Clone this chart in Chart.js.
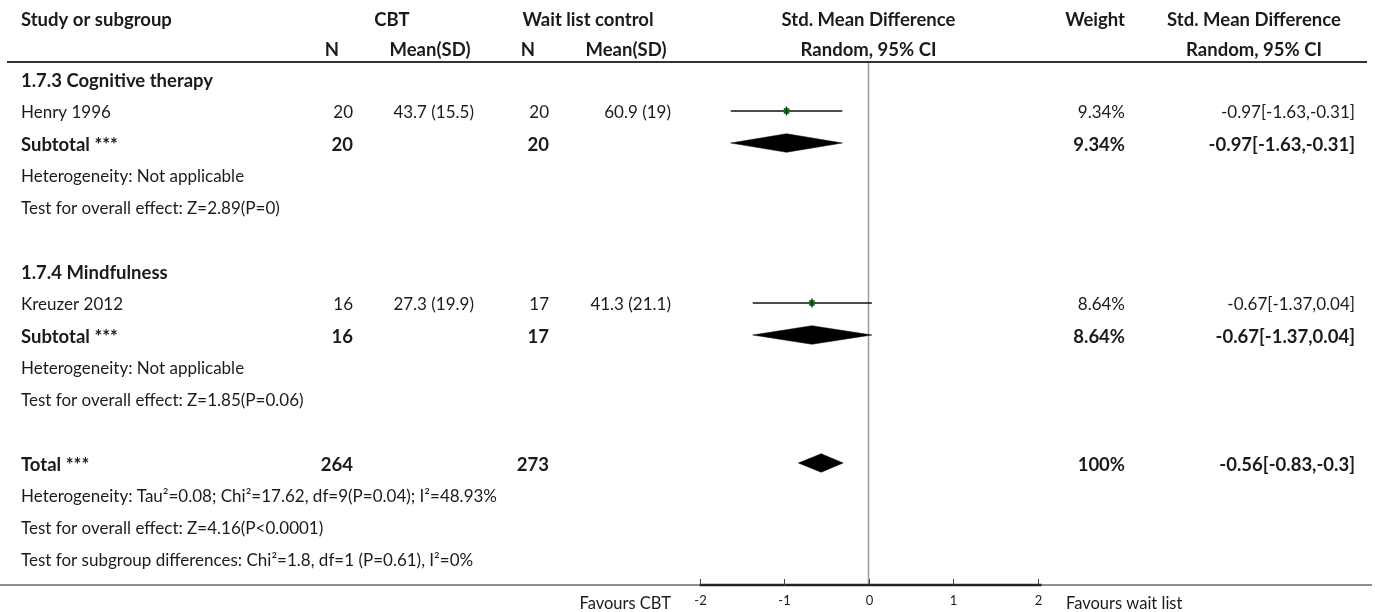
<!DOCTYPE html>
<html>
<head>
<meta charset="utf-8">
<title>Forest plot: CBT vs wait list control</title>
<script src="https://cdn.jsdelivr.net/npm/chart.js@4.4.1/dist/chart.umd.min.js"></script>
<style>
  html, body { margin: 0; padding: 0; background: #ffffff; }
  #wrap { width: 1375px; height: 612px; }
</style>
</head>
<body>
<div id="wrap"><canvas id="forest" width="1375" height="612"></canvas></div>
<script>
// ---- Table rows (top to bottom) ----
const rowLabels = [
  "1.7.3 Cognitive therapy",
  "Henry 1996",
  "Subtotal ***",
  "Heterogeneity: Not applicable",
  "Test for overall effect: Z=2.89(P=0)",
  "",
  "1.7.4 Mindfulness",
  "Kreuzer 2012",
  "Subtotal ***",
  "Heterogeneity: Not applicable",
  "Test for overall effect: Z=1.85(P=0.06)",
  "",
  "Total ***",
  "Heterogeneity: Tau\u00b2=0.08; Chi\u00b2=17.62, df=9(P=0.04); I\u00b2=48.93%",
  "Test for overall effect: Z=4.16(P<0.0001)",
  "Test for subgroup differences: Chi\u00b2=1.8, df=1 (P=0.61), I\u00b2=0%"
];
const boldRows = [0, 2, 6, 8, 12];

// ---- Individual studies ----
const studyRows   = [1, 7];
const cbtN        = [20, 16];
const cbtMeanSD   = ["43.7 (15.5)", "27.3 (19.9)"];
const wlN         = [20, 17];
const wlMeanSD    = ["60.9 (19)", "41.3 (21.1)"];
const studySMD    = [-0.97, -0.67];
const studyLo     = [-1.63, -1.37];
const studyHi     = [-0.31, 0.04];
const studyWeight = [9.34, 8.64];

// ---- Pooled estimates (subtotals and total) ----
const pooledRows   = [2, 8, 12];
const pooledCbtN   = [20, 16, 264];
const pooledWlN    = [20, 17, 273];
const pooledSMD    = [-0.97, -0.67, -0.56];
const pooledLo     = [-1.63, -1.37, -0.83];
const pooledHi     = [-0.31, 0.04, -0.3];
const pooledWeight = [9.34, 8.64, 100];

// ---- Effect axis ----
const xTicks = [-2, -1, 0, 1, 2];
const xMin = -2, xMax = 2;
const favourLeft = "Favours CBT";
const favourRight = "Favours wait list";

// ---------------------------------------------------------------
const FONT = "Lato, 'Liberation Sans', sans-serif";
const INK = "#1b1b1b";
const BODY_SIZE = 17;
const BOLD_SIZE = 18.5;
const DIAMOND_HALF = 0.29;   // half height of a pooled diamond, in row units

const ciFmt = (m, lo, hi) => `${m}[${lo},${hi}]`;

const datasets = [];

// confidence interval whiskers
studyRows.forEach((r, i) => {
  datasets.push({
    type: 'line',
    data: [{ x: studyLo[i], y: r }, { x: studyHi[i], y: r }],
    borderColor: '#111',
    borderWidth: 1.6,
    pointRadius: 0,
    fill: false,
    order: 3
  });
});

// pooled diamonds
pooledRows.forEach((r, i) => {
  datasets.push({
    type: 'line',
    data: [
      { x: pooledLo[i], y: r },
      { x: pooledSMD[i], y: r - DIAMOND_HALF },
      { x: pooledHi[i], y: r },
      { x: pooledSMD[i], y: r + DIAMOND_HALF },
      { x: pooledLo[i], y: r }
    ],
    borderColor: '#000',
    borderWidth: 0.5,
    backgroundColor: '#000',
    pointRadius: 0,
    tension: 0,
    fill: 'shape',
    order: 3
  });
});

// study point estimates: green square with a dark centre tick
datasets.push({
  type: 'scatter',
  data: studyRows.map((r, i) => ({ x: studySMD[i], y: r })),
  pointStyle: 'rect',
  pointRadius: 3.6,
  backgroundColor: '#0a7a12',
  borderColor: '#0a6010',
  borderWidth: 0.5,
  order: 2
});
datasets.push({
  type: 'scatter',
  data: studyRows.map((r, i) => ({ x: studySMD[i], y: r })),
  pointStyle: 'line',
  rotation: 90,
  pointRadius: 4.6,
  borderColor: '#102010',
  borderWidth: 1.3,
  order: 1
});

// ---- Table text, rules and the effect axis ----
const tablePlugin = {
  id: 'forestTable',
  beforeDatasetsDraw(chart) {
    const { ctx, chartArea } = chart;
    const xs = chart.scales.x;
    // line of no effect
    ctx.save();
    ctx.strokeStyle = '#9a9a9a';
    ctx.lineWidth = 1.5;
    const x0 = xs.getPixelForValue(0);
    ctx.beginPath();
    ctx.moveTo(x0, chartArea.top);
    ctx.lineTo(x0, chartArea.bottom);
    ctx.stroke();
    ctx.restore();
  },
  afterDraw(chart) {
    const { ctx, chartArea } = chart;
    const xs = chart.scales.x, ys = chart.scales.y;
    const rowY = r => ys.getPixelForValue(r) + 2;

    ctx.save();
    ctx.textBaseline = 'middle';
    ctx.fillStyle = INK;

    const put = (txt, x, y, align, bold, size) => {
      ctx.font = `${bold ? 'bold ' : ''}${size || (bold ? BOLD_SIZE : BODY_SIZE)}px ${FONT}`;
      ctx.textAlign = align;
      ctx.fillText(txt, x, y);
    };

    // column anchors
    const C = {
      study: 21, nA: 353, msA: 474, nB: 549, msB: 671,
      weight: 1125, smd: 1355
    };

    // header
    const h1 = 20, h2 = 50;
    put("Study or subgroup", C.study, h1, 'left', true);
    put("CBT", 392, h1, 'center', true);
    put("Wait list control", 588, h1, 'center', true);
    put("Std. Mean Difference", xs.getPixelForValue(0), h1, 'center', true);
    put("Weight", 1125, h1, 'right', true);
    put("Std. Mean Difference", 1254, h1, 'center', true);
    put("N", 332, h2, 'center', true);
    put("Mean(SD)", 430, h2, 'center', true);
    put("N", 528, h2, 'center', true);
    put("Mean(SD)", 626, h2, 'center', true);
    put("Random, 95% CI", xs.getPixelForValue(0), h2, 'center', true);
    put("Random, 95% CI", 1254, h2, 'center', true);

    // header rule
    ctx.strokeStyle = '#333';
    ctx.lineWidth = 2;
    ctx.beginPath();
    ctx.moveTo(7, chartArea.top);
    ctx.lineTo(1367, chartArea.top);
    ctx.stroke();

    // row labels
    rowLabels.forEach((t, r) => {
      if (t) put(t, C.study, rowY(r), 'left', boldRows.includes(r));
    });

    // study rows
    studyRows.forEach((r, i) => {
      const y = rowY(r);
      put(String(cbtN[i]), C.nA, y, 'right', false);
      put(cbtMeanSD[i], C.msA, y, 'right', false);
      put(String(wlN[i]), C.nB, y, 'right', false);
      put(wlMeanSD[i], C.msB, y, 'right', false);
      put(studyWeight[i] + '%', C.weight, y, 'right', false);
      put(ciFmt(studySMD[i], studyLo[i], studyHi[i]), C.smd, y, 'right', false);
    });

    // pooled rows
    pooledRows.forEach((r, i) => {
      const y = rowY(r);
      put(String(pooledCbtN[i]), C.nA, y, 'right', true);
      put(String(pooledWlN[i]), C.nB, y, 'right', true);
      put(pooledWeight[i] + '%', C.weight, y, 'right', true);
      put(ciFmt(pooledSMD[i], pooledLo[i], pooledHi[i]), C.smd, y, 'right', true);
    });

    // effect axis
    const yb = chartArea.bottom;
    ctx.strokeStyle = '#222';
    ctx.lineWidth = 1.2;
    ctx.beginPath();
    ctx.moveTo(0, yb);
    ctx.lineTo(1372, yb);
    ctx.stroke();
    ctx.lineWidth = 2.4;
    ctx.beginPath();
    ctx.moveTo(xs.getPixelForValue(xMin), yb);
    ctx.lineTo(xs.getPixelForValue(xMax) + 4, yb);
    ctx.stroke();
    ctx.lineWidth = 1;
    ctx.strokeStyle = '#444';
    xTicks.forEach(t => {
      const px = Math.round(xs.getPixelForValue(t)) + 0.5;
      ctx.beginPath();
      ctx.moveTo(px, yb);
      ctx.lineTo(px, yb - 6);
      ctx.stroke();
      put(String(t), px, yb + 16, 'center', false, 13);
    });
    put(favourLeft, 671, yb + 19, 'right', false, 16.5);
    put(favourRight, 1066, yb + 19, 'left', false, 16.5);

    ctx.restore();
  }
};

new Chart(document.getElementById('forest'), {
  type: 'scatter',
  data: { datasets },
  options: {
    responsive: false,
    devicePixelRatio: 1,
    animation: false,
    events: [],
    layout: { padding: { left: 699.5, right: 337.5, top: 62, bottom: 27 } },
    plugins: { legend: { display: false }, tooltip: { enabled: false } },
    scales: {
      x: { type: 'linear', min: xMin, max: xMax, display: false },
      y: { type: 'linear', min: -0.53125, max: 15.8125, reverse: true, display: false }
    }
  },
  plugins: [tablePlugin]
});
</script>
</body>
</html>
